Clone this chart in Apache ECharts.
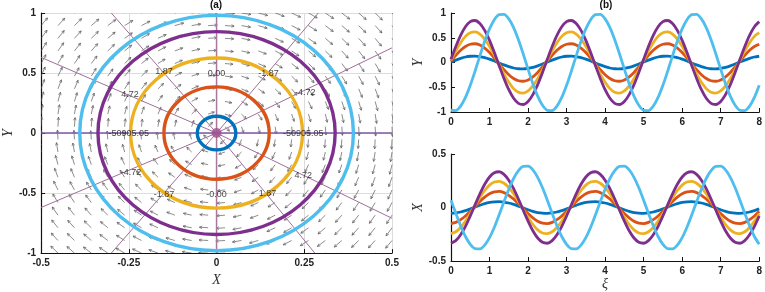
<!DOCTYPE html>
<html>
<head>
<meta charset="utf-8">
<script src="https://cdn.jsdelivr.net/npm/echarts@6/dist/echarts.min.js"></script>
<style>
html, body { margin: 0; padding: 0; background: #fff; }
#main { width: 765px; height: 292px; }
</style>
</head>
<body>
<div id="main"></div>
<script>
// xi samples for the two time plots (step 0.125)
var xi = [0, 0.125, 0.25, 0.375, 0.5, 0.625, 0.75, 0.875, 1, 1.125, 1.25, 1.375, 1.5, 1.625, 1.75, 1.875,
    2, 2.125, 2.25, 2.375, 2.5, 2.625, 2.75, 2.875, 3, 3.125, 3.25, 3.375, 3.5, 3.625, 3.75, 3.875,
    4, 4.125, 4.25, 4.375, 4.5, 4.625, 4.75, 4.875, 5, 5.125, 5.25, 5.375, 5.5, 5.625, 5.75, 5.875,
    6, 6.125, 6.25, 6.375, 6.5, 6.625, 6.75, 6.875, 7, 7.125, 7.25, 7.375, 7.5, 7.625, 7.75, 7.875, 8];

// Y(xi), top right panel
var yBlue = [
    0.010, 0.049, 0.084, 0.111, 0.126, 0.130, 0.120, 0.099, 0.068, 0.031,
    -0.010, -0.049, -0.084, -0.111, -0.126, -0.130, -0.120, -0.099, -0.068, -0.031,
    0.010, 0.049, 0.084, 0.111, 0.126, 0.130, 0.120, 0.099, 0.068, 0.031,
    -0.010, -0.049, -0.084, -0.111, -0.126, -0.130, -0.120, -0.099, -0.068, -0.031,
    0.010, 0.049, 0.084, 0.111, 0.126, 0.130, 0.120, 0.099, 0.068, 0.031,
    -0.010, -0.049, -0.084, -0.111, -0.126, -0.130, -0.120, -0.099, -0.068, -0.031,
    0.010, 0.049, 0.084, 0.111, 0.126];
var yOrange = [
    0.029, 0.144, 0.246, 0.323, 0.369, 0.379, 0.352, 0.290, 0.200, 0.090,
    -0.029, -0.144, -0.246, -0.323, -0.369, -0.379, -0.352, -0.290, -0.200, -0.090,
    0.029, 0.144, 0.246, 0.323, 0.369, 0.379, 0.352, 0.290, 0.200, 0.090,
    -0.029, -0.144, -0.246, -0.323, -0.369, -0.379, -0.352, -0.290, -0.200, -0.090,
    0.029, 0.144, 0.246, 0.323, 0.369, 0.379, 0.352, 0.290, 0.200, 0.090,
    -0.029, -0.144, -0.246, -0.323, -0.369, -0.379, -0.352, -0.290, -0.200, -0.090,
    0.029, 0.144, 0.246, 0.323, 0.369];
var yYellow = [
    0.047, 0.235, 0.401, 0.528, 0.602, 0.618, 0.574, 0.473, 0.326, 0.147,
    -0.047, -0.235, -0.401, -0.528, -0.602, -0.618, -0.574, -0.473, -0.326, -0.147,
    0.047, 0.235, 0.401, 0.528, 0.602, 0.618, 0.574, 0.473, 0.326, 0.147,
    -0.047, -0.235, -0.401, -0.528, -0.602, -0.618, -0.574, -0.473, -0.326, -0.147,
    0.047, 0.235, 0.401, 0.528, 0.602, 0.618, 0.574, 0.473, 0.326, 0.147,
    -0.047, -0.235, -0.401, -0.528, -0.602, -0.618, -0.574, -0.473, -0.326, -0.147,
    0.047, 0.235, 0.401, 0.528, 0.602];
var yPurple = [
    0.064, 0.323, 0.550, 0.723, 0.826, 0.848, 0.786, 0.648, 0.446, 0.201,
    -0.064, -0.323, -0.550, -0.723, -0.826, -0.848, -0.786, -0.648, -0.446, -0.201,
    0.064, 0.323, 0.550, 0.723, 0.826, 0.848, 0.786, 0.648, 0.446, 0.201,
    -0.064, -0.323, -0.550, -0.723, -0.826, -0.848, -0.786, -0.648, -0.446, -0.201,
    0.064, 0.323, 0.550, 0.723, 0.826, 0.848, 0.786, 0.648, 0.446, 0.201,
    -0.064, -0.323, -0.550, -0.723, -0.826, -0.848, -0.786, -0.648, -0.446, -0.201,
    0.064, 0.323, 0.550, 0.723, 0.826];
var yCyan = [
    -0.965, -0.971, -0.881, -0.706, -0.461, -0.172, 0.135, 0.428, 0.680, 0.865,
    0.965, 0.971, 0.881, 0.706, 0.461, 0.172, -0.135, -0.428, -0.680, -0.865,
    -0.965, -0.971, -0.881, -0.706, -0.461, -0.172, 0.135, 0.428, 0.680, 0.865,
    0.965, 0.971, 0.881, 0.706, 0.461, 0.172, -0.135, -0.428, -0.680, -0.865,
    -0.965, -0.971, -0.881, -0.706, -0.461, -0.172, 0.135, 0.428, 0.680, 0.865,
    0.965, 0.971, 0.881, 0.706, 0.461, 0.172, -0.135, -0.428, -0.680, -0.865,
    -0.965, -0.971, -0.881, -0.706, -0.461];

// X(xi), bottom right panel
var xBlue = [
    -0.055, -0.051, -0.042, -0.029, -0.013, 0.004, 0.021, 0.036, 0.047, 0.053,
    0.055, 0.051, 0.042, 0.029, 0.013, -0.004, -0.021, -0.036, -0.047, -0.053,
    -0.055, -0.051, -0.042, -0.029, -0.013, 0.004, 0.021, 0.036, 0.047, 0.053,
    0.055, 0.051, 0.042, 0.029, 0.013, -0.004, -0.021, -0.036, -0.047, -0.053,
    -0.055, -0.051, -0.042, -0.029, -0.013, 0.004, 0.021, 0.036, 0.047, 0.053,
    0.055, 0.051, 0.042, 0.029, 0.013, -0.004, -0.021, -0.036, -0.047, -0.053,
    -0.055, -0.051, -0.042, -0.029, -0.013];
var xOrange = [
    -0.150, -0.139, -0.114, -0.079, -0.035, 0.011, 0.057, 0.097, 0.128, 0.146,
    0.150, 0.139, 0.114, 0.079, 0.035, -0.011, -0.057, -0.097, -0.128, -0.146,
    -0.150, -0.139, -0.114, -0.079, -0.035, 0.011, 0.057, 0.097, 0.128, 0.146,
    0.150, 0.139, 0.114, 0.079, 0.035, -0.011, -0.057, -0.097, -0.128, -0.146,
    -0.150, -0.139, -0.114, -0.079, -0.035, 0.011, 0.057, 0.097, 0.128, 0.146,
    0.150, 0.139, 0.114, 0.079, 0.035, -0.011, -0.057, -0.097, -0.128, -0.146,
    -0.150, -0.139, -0.114, -0.079, -0.035];
var xYellow = [
    -0.244, -0.227, -0.187, -0.129, -0.058, 0.018, 0.093, 0.159, 0.209, 0.238,
    0.244, 0.227, 0.187, 0.129, 0.058, -0.018, -0.093, -0.159, -0.209, -0.238,
    -0.244, -0.227, -0.187, -0.129, -0.058, 0.018, 0.093, 0.159, 0.209, 0.238,
    0.244, 0.227, 0.187, 0.129, 0.058, -0.018, -0.093, -0.159, -0.209, -0.238,
    -0.244, -0.227, -0.187, -0.129, -0.058, 0.018, 0.093, 0.159, 0.209, 0.238,
    0.244, 0.227, 0.187, 0.129, 0.058, -0.018, -0.093, -0.159, -0.209, -0.238,
    -0.244, -0.227, -0.187, -0.129, -0.058];
var xPurple = [
    -0.334, -0.310, -0.255, -0.176, -0.079, 0.025, 0.127, 0.217, 0.285, 0.325,
    0.334, 0.310, 0.255, 0.176, 0.079, -0.025, -0.127, -0.217, -0.285, -0.325,
    -0.334, -0.310, -0.255, -0.176, -0.079, 0.025, 0.127, 0.217, 0.285, 0.325,
    0.334, 0.310, 0.255, 0.176, 0.079, -0.025, -0.127, -0.217, -0.285, -0.325,
    -0.334, -0.310, -0.255, -0.176, -0.079, 0.025, 0.127, 0.217, 0.285, 0.325,
    0.334, 0.310, 0.255, 0.176, 0.079, -0.025, -0.127, -0.217, -0.285, -0.325,
    -0.334, -0.310, -0.255, -0.176, -0.079];
var xCyan = [
    0.068, -0.054, -0.170, -0.271, -0.344, -0.384, -0.386, -0.351, -0.281, -0.184,
    -0.068, 0.054, 0.170, 0.271, 0.344, 0.384, 0.386, 0.351, 0.281, 0.184,
    0.068, -0.054, -0.170, -0.271, -0.344, -0.384, -0.386, -0.351, -0.281, -0.184,
    -0.068, 0.054, 0.170, 0.271, 0.344, 0.384, 0.386, 0.351, 0.281, 0.184,
    0.068, -0.054, -0.170, -0.271, -0.344, -0.384, -0.386, -0.351, -0.281, -0.184,
    -0.068, 0.054, 0.170, 0.271, 0.344, 0.384, 0.386, 0.351, 0.281, 0.184,
    0.068, -0.054, -0.170, -0.271, -0.344];

// phase plane (a): orbit semi-axes [X, Y]
var orbitAxes = [[0.055, 0.14], [0.15, 0.385], [0.245, 0.625], [0.338, 0.845], [0.39, 0.98]];
// quiver grid
var fieldX = [-0.5, -0.452, -0.405, -0.357, -0.31, -0.262, -0.214, -0.167, -0.119, -0.071, -0.024,
    0.024, 0.071, 0.119, 0.167, 0.214, 0.262, 0.31, 0.357, 0.405, 0.452, 0.5];
var fieldY = [-1, -0.895, -0.789, -0.684, -0.579, -0.474, -0.368, -0.263, -0.158, -0.053,
    0.053, 0.158, 0.263, 0.368, 0.474, 0.579, 0.684, 0.789, 0.895, 1];
// rays from the centre
var rayEnds = [[-0.5, 0.63], [-0.30, 1], [0.29, 1], [0.5, 0.71],
    [-0.5, -0.62], [-0.30, -1], [0.28, -1], [0.5, -0.71]];
var contourText = ['1.87', '4.72', '0.00', '-1.87', '-4.72', '-50905.05', '-50905.05',
    '-4.72', '-1.87', '-0.00', '1.87', '4.72'];
var contourAt = [[-0.15, 0.51], [-0.247, 0.32], [0, 0.5], [0.148, 0.5], [0.253, 0.34],
    [-0.25, 0], [0.247, 0], [-0.244, -0.33], [-0.15, -0.51], [0, -0.51], [0.145, -0.5], [0.247, -0.35]];

var colors = ['#0072BD', '#D95319', '#EDB120', '#7E2F8E', '#4DBEEE'];

var chart = echarts.init(document.getElementById('main'));

var fieldData = [];
fieldX.forEach(function (x) {
    fieldY.forEach(function (y) {
        fieldData.push([x, y]);
    });
});
// orbits are ellipses with the same aspect ratio, arrows follow their tangent
var k = Math.pow(orbitAxes[4][1] / orbitAxes[4][0], 2);

var tickFont = {fontFamily: 'Liberation Sans', fontWeight: 'bold', fontSize: 10, color: '#222'};
var nameFont = {fontFamily: 'Liberation Serif', fontStyle: 'italic', fontSize: 14, color: '#333'};

function valAxis(idx, min, max, step, extra) {
    var a = {
        type: 'value', gridIndex: idx, min: min, max: max, interval: step,
        axisLine: {onZero: false, lineStyle: {color: '#111', width: 1.2}},
        axisTick: {inside: true, length: 4, lineStyle: {color: '#111'}},
        axisLabel: Object.assign({margin: 5}, tickFont),
        splitLine: {show: false},
        nameTextStyle: nameFont
    };
    return Object.assign(a, extra || {});
}

var series = [];

// quiver
series.push({
    type: 'custom', xAxisIndex: 0, yAxisIndex: 0, z: 1, clip: true,
    data: fieldData,
    renderItem: function (params, api) {
        var x = api.value(0), y = api.value(1);
        var p = api.coord([x, y]);
        var s = api.size([1, 1]);
        var du = y * s[0], dv = k * x * s[1];
        var m = Math.sqrt(du * du + dv * dv) || 1;
        var len = 6 + 4 * Math.min(1, m / 400);
        var ex = du / m, ey = dv / m;
        var tip = [p[0] + ex * len, p[1] + ey * len];
        var h = 3, c = Math.cos(0.45), sn = Math.sin(0.45);
        var bx = -ex, by = -ey;
        var h1 = [tip[0] + h * (bx * c - by * sn), tip[1] + h * (bx * sn + by * c)];
        var h2 = [tip[0] + h * (bx * c + by * sn), tip[1] + h * (-bx * sn + by * c)];
        return {
            type: 'group', children: [
                {type: 'line', shape: {x1: p[0], y1: p[1], x2: tip[0], y2: tip[1]},
                    style: {stroke: '#5a5a5a', lineWidth: 0.7}},
                {type: 'polyline', shape: {points: [h1, tip, h2]},
                    style: {stroke: '#5a5a5a', lineWidth: 0.7, fill: null}}
            ]
        };
    }
});

// rays
series.push({
    type: 'custom', xAxisIndex: 0, yAxisIndex: 0, z: 2,
    data: rayEnds,
    renderItem: function (params, api) {
        var o = api.coord([0, 0]);
        var e = api.coord([api.value(0), api.value(1)]);
        return {type: 'line', shape: {x1: o[0], y1: o[1], x2: e[0], y2: e[1]},
            style: {stroke: '#9d7098', lineWidth: 1}};
    }
});
// x = 0 and y = 0 lines
series.push({
    type: 'line', xAxisIndex: 0, yAxisIndex: 0, z: 2, symbol: 'none', silent: true,
    data: [[-0.5, 0], [0.5, 0]], lineStyle: {color: '#7d5aa6', width: 1.5}
});
series.push({
    type: 'line', xAxisIndex: 0, yAxisIndex: 0, z: 2, symbol: 'none', silent: true,
    data: [[0, -1], [0, 1]], lineStyle: {color: '#a8789f', width: 1.5}
});

// orbits
series.push({
    type: 'custom', xAxisIndex: 0, yAxisIndex: 0, z: 4,
    data: orbitAxes,
    renderItem: function (params, api) {
        var c = api.coord([0, 0]);
        var s = api.size([api.value(0), api.value(1)]);
        return {type: 'ellipse', shape: {cx: c[0], cy: c[1], rx: s[0], ry: s[1]},
            style: {fill: 'none', stroke: colors[params.dataIndex], lineWidth: 3.4}};
    }
});

// centre point
series.push({
    type: 'scatter', xAxisIndex: 0, yAxisIndex: 0, z: 5, symbolSize: 10,
    data: [[0, 0]], itemStyle: {color: '#a0508c'}
});

// contour labels
series.push({
    type: 'scatter', xAxisIndex: 0, yAxisIndex: 0, z: 6, symbolSize: 1,
    itemStyle: {color: 'transparent'},
    data: contourText.map(function (t, i) {
        return {name: t, value: contourAt[i]};
    }),
    label: {show: true, position: 'inside', formatter: '{b}',
        fontFamily: 'Liberation Sans', fontSize: 9, color: '#111'}
});

var yNames = ['Blue', 'Orange', 'Yellow', 'Purple', 'Cyan'];
var yData = [yBlue, yOrange, yYellow, yPurple, yCyan];
var xData = [xBlue, xOrange, xYellow, xPurple, xCyan];
yData.forEach(function (arr, i) {
    series.push({
        type: 'line', name: 'Y' + yNames[i], xAxisIndex: 1, yAxisIndex: 1, symbol: 'none', smooth: 0.3,
        data: arr.map(function (v, j) { return [xi[j], v]; }),
        lineStyle: {color: colors[i], width: 2.8}, z: 3 + i
    });
});
xData.forEach(function (arr, i) {
    series.push({
        type: 'line', name: 'X' + yNames[i], xAxisIndex: 2, yAxisIndex: 2, symbol: 'none', smooth: 0.3,
        data: arr.map(function (v, j) { return [xi[j], v]; }),
        lineStyle: {color: colors[i], width: 2.8}, z: 3 + i
    });
});

var option = {
    animation: false,
    backgroundColor: '#fff',
    grid: [
        {left: 40, top: 13, width: 352, height: 250},
        {left: 451, top: 13, width: 311, height: 99},
        {left: 451, top: 154, width: 311, height: 107}
    ],
    xAxis: [
        valAxis(0, -0.5, 0.5, 0.25, {
            name: 'X', nameLocation: 'middle', nameGap: 17,
            splitLine: {show: true, lineStyle: {color: '#dcdcdc', width: 1}}
        }),
        valAxis(1, 0, 8, 1),
        valAxis(2, 0, 8, 1, {name: 'ξ', nameLocation: 'middle', nameGap: 16})
    ],
    yAxis: [
        valAxis(0, -1, 1, 0.5, {
            name: 'Y', nameLocation: 'middle', nameGap: 24,
            splitLine: {show: true, lineStyle: {color: '#dcdcdc', width: 1}}
        }),
        valAxis(1, -1, 1, 0.5, {name: 'Y', nameLocation: 'middle', nameGap: 24}),
        valAxis(2, -0.5, 0.5, 0.5, {name: 'X', nameLocation: 'middle', nameGap: 24})
    ],
    graphic: [
        {type: 'text', x: 216, y: 0, style: {text: '(a)', align: 'center',
            font: 'bold 10px "Liberation Sans"', fill: '#111'}},
        {type: 'text', x: 606, y: 0, style: {text: '(b)', align: 'center',
            font: 'bold 10px "Liberation Sans"', fill: '#111'}}
    ],
    series: series
};
chart.setOption(option);
</script>
</body>
</html>
